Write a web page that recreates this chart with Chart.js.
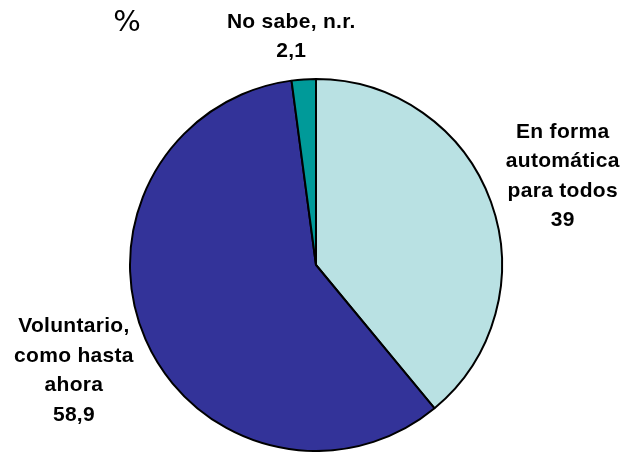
<!DOCTYPE html>
<html>
<head>
<meta charset="utf-8">
<script src="https://cdn.jsdelivr.net/npm/chart.js@4/dist/chart.umd.min.js"></script>
<style>
	html, body { margin: 0; padding: 0; background: #fff; }
	#wrap { width: 626px; height: 452px; }
</style>
</head>
<body>
<div id="wrap"><canvas id="pie"></canvas></div>
<script>
// slices, clockwise from 12 o'clock
const categories = [
	['En forma', 'automática', 'para todos'],
	['Voluntario,', 'como hasta', 'ahora'],
	['No sabe, n.r.']
];
const values = [39, 58.9, 2.1];
const colors = ['#b9e1e3', '#333399', '#009a99'];
// label placement: distance as a multiple of the radius, and a small turn in degrees
const labelDist = [1.41, 1.42, 1.235];
const labelTurn = [0, 0, -2.4];

const fmt = v => String(v).replace('.', ',');

const sliceLabels = {
	id: 'sliceLabels',
	afterDatasetsDraw(chart) {
		const ctx = chart.ctx;
		const arcs = chart.getDatasetMeta(0).data;
		ctx.save();
		ctx.fillStyle = '#000';
		ctx.textAlign = 'center';
		ctx.textBaseline = 'middle';
		ctx.font = 'bold 21px "Liberation Sans", Arial, sans-serif';
		ctx.letterSpacing = '0.3px';
		const lh = 29.5;
		arcs.forEach((arc, i) => {
			const mid = (arc.startAngle + arc.endAngle) / 2 + labelTurn[i] * Math.PI / 180;
			const r = arc.outerRadius * labelDist[i];
			const cx = arc.x + Math.cos(mid) * r;
			const cy = arc.y + Math.sin(mid) * r;
			const lines = categories[i].concat(fmt(values[i]));
			const top = cy - (lines.length - 1) * lh / 2;
			lines.forEach((t, j) => ctx.fillText(t, cx, top + j * lh));
		});
		// unit marker
		ctx.font = '29px "DejaVu Sans", sans-serif';
		ctx.letterSpacing = '0px';
		ctx.fillText('%', 127, 23);
		ctx.restore();
	}
};

new Chart(document.getElementById('pie'), {
	type: 'pie',
	data: {
		labels: categories.map(c => c.join(' ')),
		datasets: [{
			data: values,
			backgroundColor: colors,
			borderColor: '#000',
			borderWidth: 2
		}]
	},
	options: {
		responsive: true,
		maintainAspectRatio: false,
		animation: false,
		layout: { padding: { left: 129, right: 123, top: 78, bottom: 0 } },
		plugins: {
			legend: { display: false },
			tooltip: { enabled: false }
		}
	},
	plugins: [sliceLabels]
});
</script>
</body>
</html>
